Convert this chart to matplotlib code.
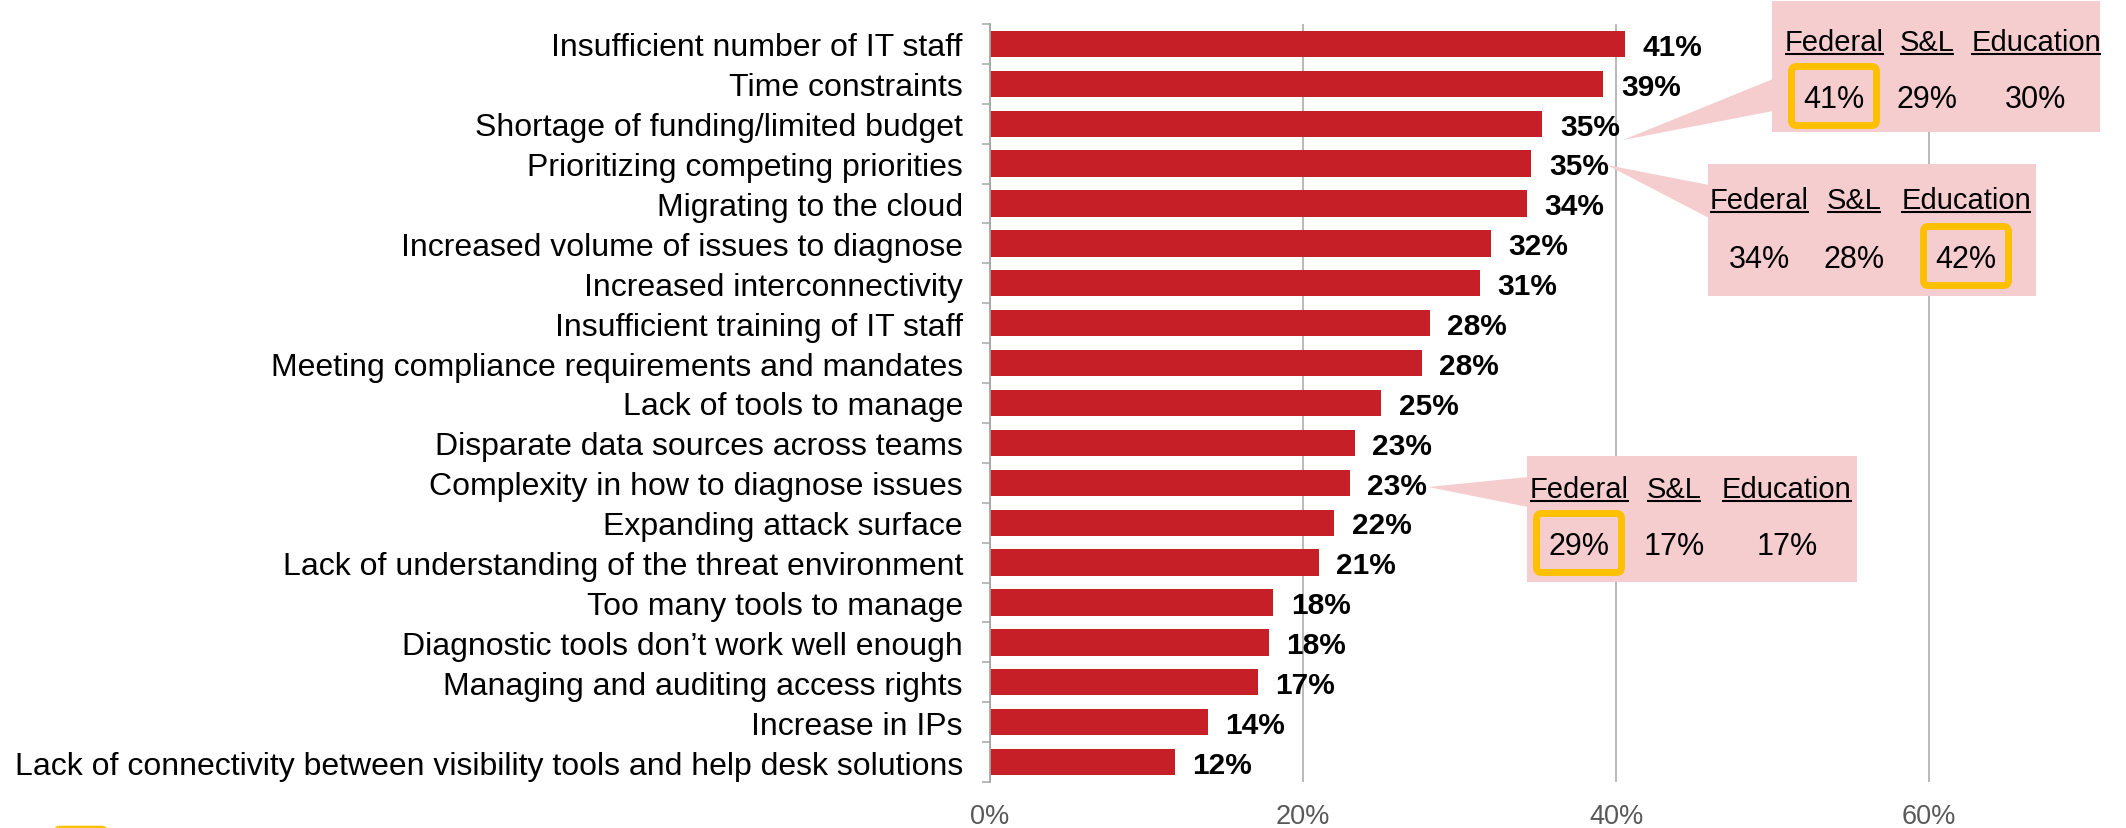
import matplotlib
matplotlib.use('Agg')
import matplotlib.pyplot as plt
from matplotlib.patches import Rectangle, Polygon, FancyBboxPatch
from matplotlib.ticker import FixedLocator

plt.rcParams['font.family'] = ['Liberation Sans', 'DejaVu Sans']

# ---------------------------------------------------------------------------
# Data
# ---------------------------------------------------------------------------
challenges = [
    "Insufficient number of IT staff",
    "Time constraints",
    "Shortage of funding/limited budget",
    "Prioritizing competing priorities",
    "Migrating to the cloud",
    "Increased volume of issues to diagnose",
    "Increased interconnectivity",
    "Insufficient training of IT staff",
    "Meeting compliance requirements and mandates",
    "Lack of tools to manage",
    "Disparate data sources across teams",
    "Complexity in how to diagnose issues",
    "Expanding attack surface",
    "Lack of understanding of the threat environment",
    "Too many tools to manage",
    "Diagnostic tools don\u2019t work well enough",
    "Managing and auditing access rights",
    "Increase in IPs",
    "Lack of connectivity between visibility tools and help desk solutions",
]
pct_all = [40.6, 39.2, 35.3, 34.6, 34.3, 32.0, 31.3, 28.1, 27.6, 25.0,
           23.3, 23.0, 22.0, 21.0, 18.1, 17.8, 17.1, 13.9, 11.8]

x_ticks = [0, 20, 40, 60]

# segment breakdowns shown in the callouts
segments = ["Federal", "S&L", "Education"]
callout_rows = [2, 3, 11]
federal_pct = [41, 34, 29]
sl_pct = [29, 28, 17]
education_pct = [30, 42, 17]
highlight_col = [0, 2, 0]

# ---------------------------------------------------------------------------
# Style / layout (pixel units on a 2126 x 829 canvas)
# ---------------------------------------------------------------------------
W, H = 2126, 829
BAR_RED = '#C71F27'
PINK = '#F5CDCF'
GOLD = '#FFC000'
GRID = '#A6A6A6'
TICK_GREY = '#595959'

# box(l, t, r, b), header baseline, value baseline, column centres, tip, pointer base
callout_layout = [
    ((1772, 2, 2100, 133), 51, 108, (1834, 1927, 2036), (1623, 141), (80, 112)),
    ((1708, 165, 2036, 297), 209, 268, (1759, 1854, 1966), (1607, 166), (186, 219)),
    ((1527, 457, 1857, 583), 498, 555, (1579, 1674, 1787), (1428, 488), (478, 508)),
]

fig = plt.figure(figsize=(W / 100, H / 100), dpi=100)
fig.patch.set_facecolor('white')

ax_left, ax_right, ax_top, ax_bottom = 990, 2085.5, 25, 783
ax = fig.add_axes([ax_left / W, (H - ax_bottom) / H,
                   (ax_right - ax_left) / W, (ax_bottom - ax_top) / H])

rows = list(range(len(challenges)))
ax.barh(rows, pct_all, height=0.66, color=BAR_RED, zorder=3)

for i, v in enumerate(pct_all):
    ax.annotate(f"{v:.0f}%", (v, i), xytext=(12.5, -2), textcoords='offset points',
                ha='left', va='center', fontsize=21.5, fontweight='bold',
                color='black', zorder=4)

ax.set_xlim(0, 70)
ax.set_ylim(len(challenges) - 0.5, -0.5)

ax.set_yticks(rows)
ax.set_yticklabels(challenges, fontsize=23, color='black')
ax.yaxis.set_minor_locator(FixedLocator([r - 0.5 for r in rows] + [rows[-1] + 0.5]))
ax.tick_params(axis='y', which='major', length=0, pad=19.5)
ax.tick_params(axis='y', which='minor', length=5.8, width=1.1, color=GRID)

ax.set_xticks(x_ticks)
ax.set_xticklabels([f"{t}%" for t in x_ticks], fontsize=19.5, color=TICK_GREY)
ax.tick_params(axis='x', length=0, pad=15)

ax.grid(axis='x', color=GRID, linewidth=1.1, zorder=0)
ax.set_axisbelow(True)
for side in ('top', 'right', 'bottom'):
    ax.spines[side].set_visible(False)
ax.spines['left'].set_color(GRID)
ax.spines['left'].set_linewidth(1.3)
ax.spines['left'].set_zorder(5)

# overlay in pixel coordinates for the callouts
ov = fig.add_axes([0, 0, 1, 1], zorder=10)
ov.set_xlim(0, W)
ov.set_ylim(H, 0)
ov.axis('off')
ov.patch.set_alpha(0)

header_texts = []
for k, row in enumerate(callout_rows):
    (l, t, r, b), hb, vb, cols, tip, base = callout_layout[k]
    ov.add_patch(Polygon([tip, (l + 1, base[0]), (l + 1, base[1])],
                         closed=True, facecolor=PINK, edgecolor='none'))
    ov.add_patch(Rectangle((l, t), r - l, b - t, facecolor=PINK, edgecolor='none'))

    vals = [federal_pct[k], sl_pct[k], education_pct[k]]
    for c, (name, val) in enumerate(zip(segments, vals)):
        ht = ov.text(cols[c], hb, name, ha='center', va='baseline',
                     fontsize=21, color='black')
        header_texts.append((ht, hb))
        ov.text(cols[c], vb, f"{val}%", ha='center', va='baseline',
                fontsize=22, color='black')

    hc = cols[highlight_col[k]]
    ov.add_patch(FancyBboxPatch((hc - 42.5, vb - 40.5), 85, 59,
                                boxstyle='round,pad=0,rounding_size=5',
                                fill=False, edgecolor=GOLD, linewidth=5))

# legend swatch peeking in at the bottom edge
ov.add_patch(FancyBboxPatch((54, 829.5), 52, 30,
                            boxstyle='round,pad=0,rounding_size=5',
                            fill=False, edgecolor=GOLD, linewidth=4,
                            clip_on=False))

# underline the segment headers
fig.canvas.draw()
for ht, hb in header_texts:
    bb = ht.get_window_extent()
    ov.plot([bb.x0, bb.x1], [hb + 3.5, hb + 3.5], color='black', linewidth=1.5,
            solid_capstyle='butt')

fig.savefig('out.png', dpi=100)
